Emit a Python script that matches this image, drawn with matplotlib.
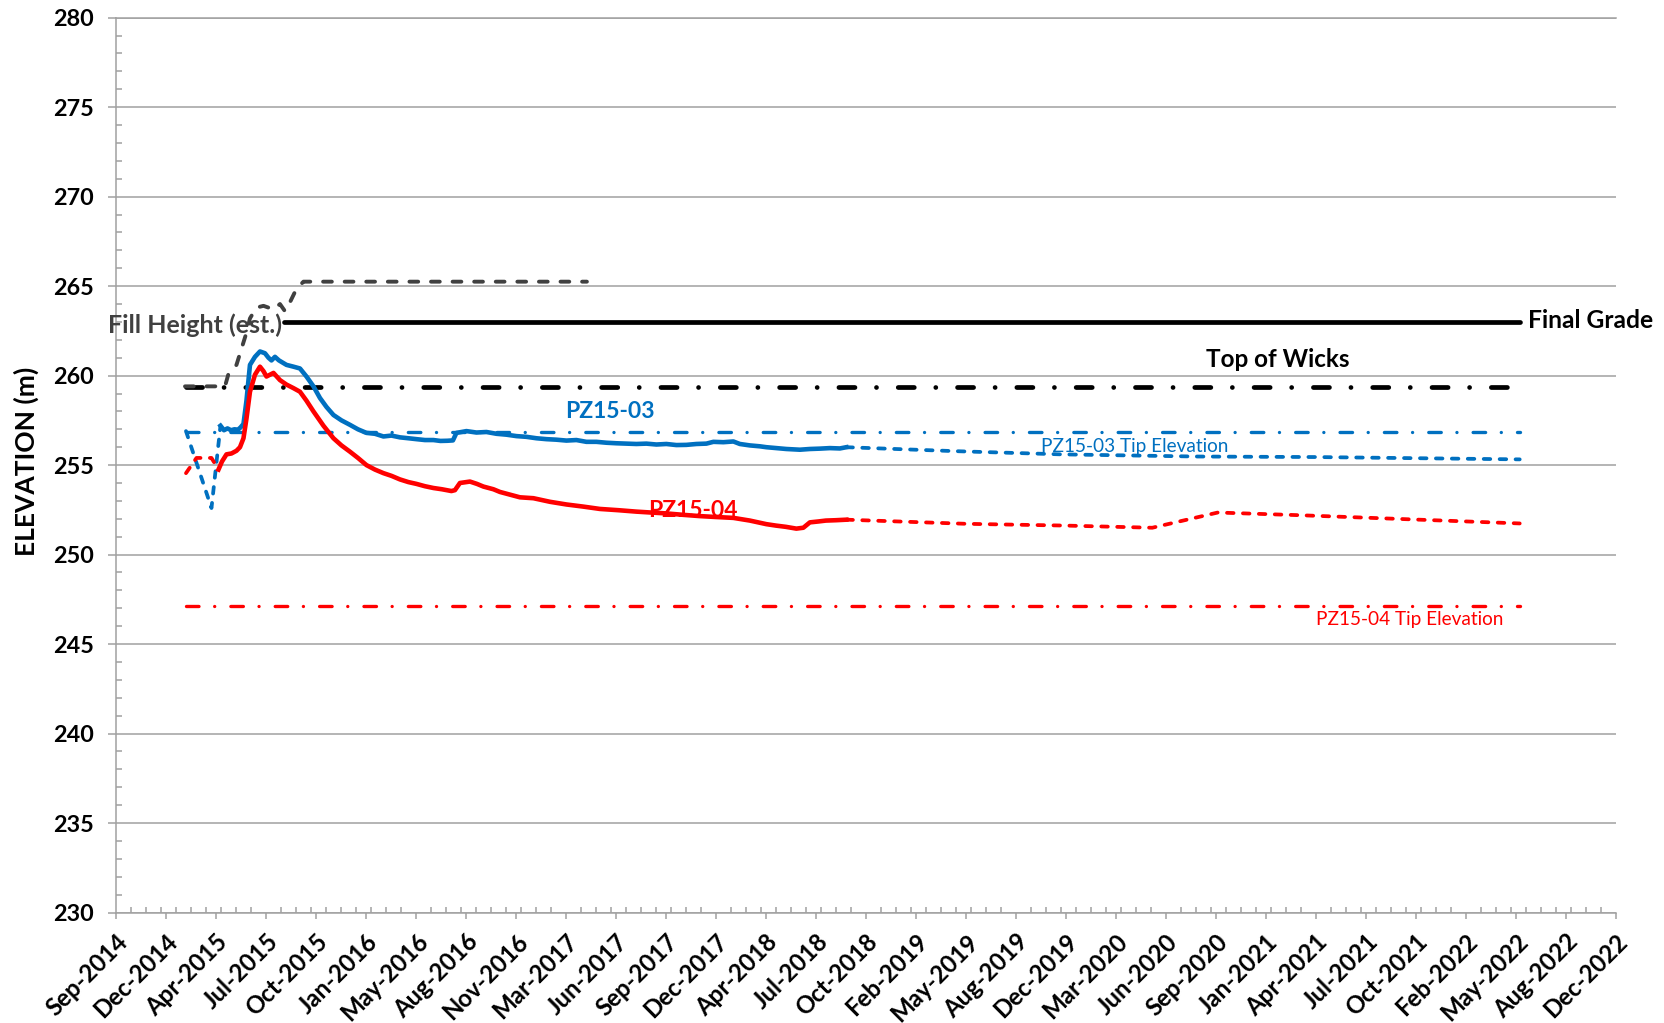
import numpy as np
import pandas as pd
import matplotlib
matplotlib.use("Agg")
import matplotlib.pyplot as plt
import matplotlib.dates as mdates
from matplotlib.ticker import FixedLocator, MultipleLocator

plt.rcParams['font.family'] = ['Lato', 'DejaVu Sans']

BLUE = "#0070C0"
RED = "#FF0000"
GREY = "#404040"
GRID = "#A0A0A0"

# ---------------------------------------------------------------- data
axis_start = "2014-09-18"
axis_end = "2022-12-05"

# PZ15-03 piezometer: early (dashed) readings, logger record, projection
pz03_pre_dates = ["2015-02-05", "2015-03-28", "2015-04-15"]
pz03_pre_vals = [256.90, 252.60, 257.20]

pz03_dates = [
    "2015-04-15", "2015-04-22", "2015-04-29", "2015-05-06", "2015-05-13",
    "2015-05-20", "2015-05-25", "2015-05-31", "2015-06-06", "2015-06-13",
    "2015-06-23", "2015-07-03", "2015-07-13", "2015-07-20", "2015-07-26",
    "2015-08-02", "2015-08-10", "2015-08-25", "2015-09-08", "2015-09-21",
    "2015-10-04", "2015-10-18", "2015-10-31", "2015-11-13", "2015-11-27",
    "2015-12-13", "2015-12-30", "2016-01-15", "2016-02-01", "2016-02-18",
    "2016-03-06", "2016-03-22", "2016-04-08", "2016-04-25", "2016-05-11",
    "2016-05-28", "2016-06-14", "2016-06-28", "2016-07-12", "2016-07-23",
    "2016-07-30", "2016-08-19", "2016-09-08", "2016-09-28", "2016-10-18",
    "2016-11-07", "2016-11-27", "2016-12-17", "2017-01-06", "2017-01-26",
    "2017-02-15", "2017-03-07", "2017-03-27", "2017-04-16", "2017-05-06",
    "2017-05-26", "2017-06-15", "2017-07-05", "2017-07-25", "2017-08-14",
    "2017-09-03", "2017-09-23", "2017-10-13", "2017-11-02", "2017-11-22",
    "2017-12-12", "2017-12-26", "2018-01-15", "2018-02-04", "2018-02-17",
    "2018-03-09", "2018-03-29", "2018-04-11", "2018-05-01", "2018-05-21",
    "2018-06-17", "2018-07-07", "2018-07-27", "2018-08-16", "2018-09-05",
    "2018-09-18",
]
pz03_vals = [
    257.20, 256.95, 257.05, 256.95, 257.00,
    256.98, 257.10, 257.30, 258.60, 260.60,
    261.05, 261.35, 261.25, 261.00, 260.85,
    261.05, 260.85, 260.60, 260.50, 260.40,
    259.95, 259.40, 258.75, 258.25, 257.80,
    257.50, 257.25, 257.00, 256.80, 256.75,
    256.60, 256.65, 256.55, 256.50, 256.45,
    256.40, 256.40, 256.35, 256.36, 256.38,
    256.80, 256.90, 256.82, 256.85, 256.75,
    256.70, 256.62, 256.58, 256.50, 256.45,
    256.42, 256.37, 256.40, 256.30, 256.30,
    256.25, 256.22, 256.20, 256.18, 256.20,
    256.15, 256.18, 256.12, 256.13, 256.18,
    256.20, 256.30, 256.28, 256.32, 256.18,
    256.10, 256.05, 256.00, 255.95, 255.90,
    255.86, 255.90, 255.92, 255.95, 255.93,
    256.00,
]

pz03_proj_dates = ["2018-09-18", "2019-04-23", "2019-11-22", "2020-08-17",
                   "2021-04-14", "2022-05-27"]
pz03_proj_vals = [256.00, 255.78, 255.60, 255.48, 255.45, 255.32]

# PZ15-04 piezometer
pz04_pre_dates = ["2015-02-05", "2015-02-26", "2015-03-28", "2015-04-11"]
pz04_pre_vals = [254.55, 255.40, 255.40, 254.75]

pz04_dates = [
    "2015-04-11", "2015-04-18", "2015-04-27", "2015-05-07", "2015-05-17",
    "2015-05-24", "2015-05-31", "2015-06-06", "2015-06-13", "2015-06-23",
    "2015-07-03", "2015-07-10", "2015-07-16", "2015-07-23", "2015-07-30",
    "2015-08-12", "2015-08-25", "2015-09-08", "2015-09-21", "2015-10-04",
    "2015-10-18", "2015-11-07", "2015-11-27", "2015-12-13", "2015-12-30",
    "2016-01-15", "2016-02-01", "2016-02-18", "2016-03-06", "2016-03-22",
    "2016-04-08", "2016-04-25", "2016-05-11", "2016-05-28", "2016-06-14",
    "2016-07-01", "2016-07-20", "2016-07-27", "2016-08-06", "2016-08-26",
    "2016-09-09", "2016-09-22", "2016-10-12", "2016-10-25", "2016-11-14",
    "2016-12-04", "2016-12-31", "2017-02-02", "2017-03-07", "2017-04-10",
    "2017-05-13", "2017-06-19", "2017-07-25", "2017-08-23", "2017-09-23",
    "2017-10-27", "2017-11-29", "2017-12-31", "2018-02-04", "2018-03-09",
    "2018-04-11", "2018-04-30", "2018-05-20", "2018-06-10", "2018-06-24",
    "2018-07-07", "2018-07-24", "2018-08-08", "2018-08-28", "2018-09-18",
]
pz04_vals = [
    254.75, 255.20, 255.60, 255.65, 255.80,
    256.00, 256.50, 257.60, 259.10, 260.05,
    260.50, 260.25, 259.95, 260.05, 260.15,
    259.75, 259.50, 259.30, 259.10, 258.60,
    258.00, 257.20, 256.50, 256.10, 255.75,
    255.40, 255.00, 254.75, 254.55, 254.40,
    254.20, 254.05, 253.95, 253.82, 253.72,
    253.65, 253.55, 253.60, 254.00, 254.08,
    253.95, 253.80, 253.65, 253.50, 253.35,
    253.20, 253.15, 252.95, 252.80, 252.68,
    252.55, 252.48, 252.40, 252.35, 252.30,
    252.22, 252.15, 252.10, 252.05, 251.90,
    251.70, 251.62, 251.55, 251.45, 251.50,
    251.80, 251.85, 251.90, 251.92, 251.95,
]

pz04_proj_dates = ["2018-09-18", "2019-05-15", "2019-12-01", "2020-05-22",
                   "2020-09-30", "2021-03-13", "2022-05-27"]
pz04_proj_vals = [251.95, 251.72, 251.62, 251.50, 252.35, 252.20, 251.74]

# Estimated fill height
fill_dates = [
    "2015-02-03", "2015-04-24", "2015-05-01", "2015-05-17", "2015-05-27",
    "2015-06-06", "2015-06-13", "2015-06-26", "2015-07-10", "2015-07-30",
    "2015-08-12", "2015-08-22", "2015-09-01", "2015-09-14", "2015-09-28",
    "2017-04-17",
]
fill_vals = [
    259.40, 259.40, 260.10, 260.60, 261.50,
    262.40, 263.20, 263.80, 263.90, 263.70,
    264.00, 263.60, 264.10, 264.85, 265.25,
    265.25,
]

# Reference elevations
final_grade = 263.0
final_grade_dates = ["2015-08-21", "2022-05-27"]
top_of_wicks = 259.35
pz03_tip = 256.85
pz04_tip = 247.10
ref_dates = ["2015-02-05", "2022-05-27"]


def dn(dates):
    return mdates.date2num(pd.to_datetime(dates).to_numpy())


# ---------------------------------------------------------------- figure
fig = plt.figure(figsize=(16.64, 10.23), dpi=100)
ax = fig.add_axes([116 / 1664, 1 - 912.5 / 1023,
                   (1615.7 - 116) / 1664, (912.5 - 17.7) / 1023])

# horizontal reference lines
ax.plot(dn(ref_dates), [pz04_tip] * 2, color=RED, lw=2.4,
        linestyle=(0, (3.75, 4.7, 0.01, 4.85)), dash_capstyle='round')
ax.plot(dn(ref_dates), [pz03_tip] * 2, color=BLUE, lw=2.4,
        linestyle=(0, (3.75, 4.7, 0.01, 4.85)), dash_capstyle='round')
ax.plot(dn(ref_dates), [top_of_wicks] * 2, color='black', lw=3.4,
        linestyle=(0, (3.4, 4.55, 0.01, 4.6)), dash_capstyle='round')
ax.plot(dn(final_grade_dates), [final_grade] * 2, color='black', lw=3.4,
        solid_capstyle='round')

# fill height
ax.plot(dn(fill_dates), fill_vals, color=GREY, lw=2.8,
        linestyle=(0, (2.25, 3.3)), dash_capstyle='round')

# piezometers
dash = (0, (1.75, 2.5))
ax.plot(dn(pz03_pre_dates), pz03_pre_vals, color=BLUE, lw=2.7,
        linestyle=dash, dash_capstyle='round')
ax.plot(dn(pz03_proj_dates), pz03_proj_vals, color=BLUE, lw=2.7,
        linestyle=dash, dash_capstyle='round')
ax.plot(dn(pz04_pre_dates), pz04_pre_vals, color=RED, lw=2.7,
        linestyle=dash, dash_capstyle='round')
ax.plot(dn(pz04_proj_dates), pz04_proj_vals, color=RED, lw=2.7,
        linestyle=dash, dash_capstyle='round')
ax.plot(dn(pz03_dates), pz03_vals, color=BLUE, lw=3.3,
        solid_joinstyle='round')
ax.plot(dn(pz04_dates), pz04_vals, color=RED, lw=3.3,
        solid_joinstyle='round')

# ---------------------------------------------------------------- axes
x0, x1 = dn([axis_start, axis_end])
ax.set_xlim(x0, x1)
ax.set_ylim(230, 280)

ax.xaxis.set_major_locator(FixedLocator(np.arange(x0, x1 + 1, 100)))
ax.xaxis.set_minor_locator(FixedLocator(np.arange(x0, x1 + 1, 30)))
ax.xaxis.set_major_formatter(mdates.DateFormatter('%b-%Y'))
ax.yaxis.set_major_locator(MultipleLocator(5))
ax.yaxis.set_minor_locator(MultipleLocator(1))

ax.yaxis.grid(True, which='major', color=GRID, lw=1.1)
ax.set_axisbelow(True)
for side in ('left', 'bottom', 'top'):
    ax.spines[side].set_color(GRID)
    ax.spines[side].set_linewidth(1.1)
ax.spines['right'].set_visible(False)

ax.tick_params(axis='y', which='major', direction='out', length=6,
               width=1.1, color=GRID, pad=10, labelsize=16.8)
ax.tick_params(axis='y', which='minor', direction='in', length=4.3,
               width=1.1, color=GRID)
ax.tick_params(axis='x', which='major', direction='out', length=4.5,
               width=1.1, color=GRID, pad=8, labelsize=17.3)
ax.tick_params(axis='x', which='minor', direction='in', length=4.3,
               width=1.1, color=GRID)
for lab in ax.get_yticklabels():
    lab.set_fontweight('bold')
for lab in ax.get_xticklabels():
    lab.set_fontweight('bold')
    lab.set_rotation(45)
    lab.set_ha('right')
    lab.set_va('top')
    lab.set_rotation_mode('anchor')

fig.text(26.5 / 1664, 1 - 461.6 / 1023, 'ELEVATION (m)', rotation=90,
         ha='center', va='center', fontsize=19, fontweight='bold')

# ---------------------------------------------------------------- labels
def t(date):
    return dn([date])[0]


ax.text(t("2014-09-02"), 262.83, 'Fill Height (est.)', color=GREY,
        fontsize=18, fontweight='bold', ha='left', va='center',
        clip_on=False)
ax.text(t("2022-06-12"), 263.1, 'Final Grade', color='black',
        fontsize=17.75, fontweight='bold', ha='left', va='center',
        clip_on=False)
ax.text(t("2020-09-07"), 260.9, 'Top of Wicks', color='black',
        fontsize=17.5, fontweight='bold', ha='left', va='center')
ax.text(t("2017-06-02"), 258.0, 'PZ15-03', color=BLUE,
        fontsize=16.5, fontweight='bold', ha='center', va='center')
ax.text(t("2017-11-15"), 252.45, 'PZ15-04', color=RED,
        fontsize=16.5, fontweight='bold', ha='center', va='center')
ax.text(t("2019-10-13"), 256.05, 'PZ15-03 Tip Elevation', color=BLUE,
        fontsize=13.7, ha='left', va='center')
ax.text(t("2021-04-15"), 246.4, 'PZ15-04 Tip Elevation', color=RED,
        fontsize=13.7, ha='left', va='center')

fig.savefig('out.png', dpi=100)
